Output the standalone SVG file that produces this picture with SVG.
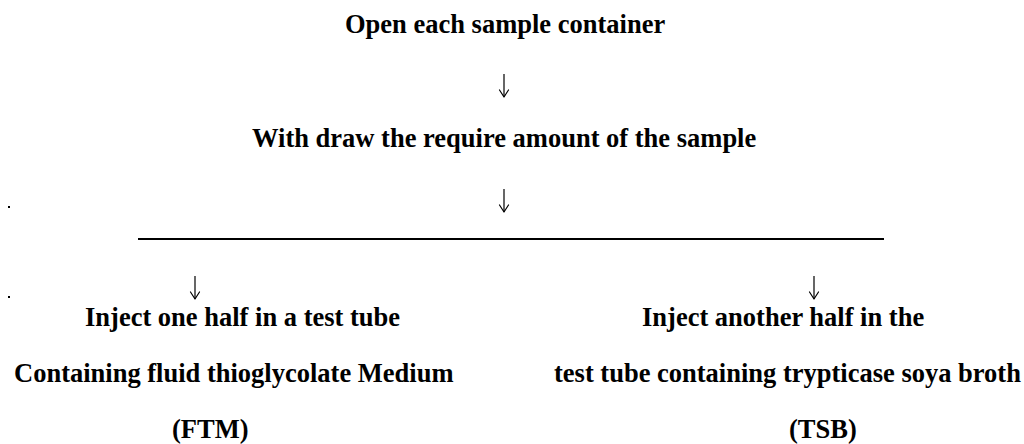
<svg xmlns="http://www.w3.org/2000/svg" width="1024" height="444" viewBox="0 0 1024 444">
<style>
.t{font-family:"Liberation Serif","Times New Roman",serif;font-weight:bold;font-size:26.5px;fill:#000}
.c{stroke:#000;stroke-width:1.2;fill:none}
.h{stroke:#000;stroke-width:1.2;fill:none;stroke-linecap:round;stroke-linejoin:round}
</style>
<rect width="1024" height="444" fill="#fff"/>
<g id="node-open"><text class="t" x="345" y="33">Open each sample container</text></g>
<g id="node-withdraw"><text class="t" x="252" y="147">With draw the require amount of the sample</text></g>
<g id="node-ftm">
<text class="t" x="85" y="326">Inject one half in a test tube</text>
<text class="t" x="14" y="382">Containing fluid thioglycolate Medium</text>
<text class="t" x="172" y="438">(FTM)</text>
</g>
<g id="node-tsb">
<text class="t" x="642" y="326">Inject another half in the</text>
<text class="t" x="554" y="382">test tube containing trypticase soya broth</text>
<text class="t" x="789" y="438">(TSB)</text>
</g>
<g id="connectors">
<line class="c" x1="504" y1="74" x2="504" y2="97"/>
<polyline class="h" points="499.5,90 504,97 508.5,90"/>
<line class="c" x1="504" y1="189" x2="504" y2="212"/>
<polyline class="h" points="499.5,205 504,212 508.5,205"/>
<line x1="138" y1="239" x2="884" y2="239" stroke="#000" stroke-width="2"/>
<line class="c" x1="195" y1="276" x2="195" y2="299"/>
<polyline class="h" points="190.5,292 195,299 199.5,292"/>
<line class="c" x1="814" y1="276" x2="814" y2="299"/>
<polyline class="h" points="809.5,292 814,299 818.5,292"/>
</g>
<g id="dots">
<rect x="8" y="206" width="2" height="2" fill="#000"/>
<rect x="8" y="296" width="2" height="2" fill="#000"/>
</g>
</svg>
